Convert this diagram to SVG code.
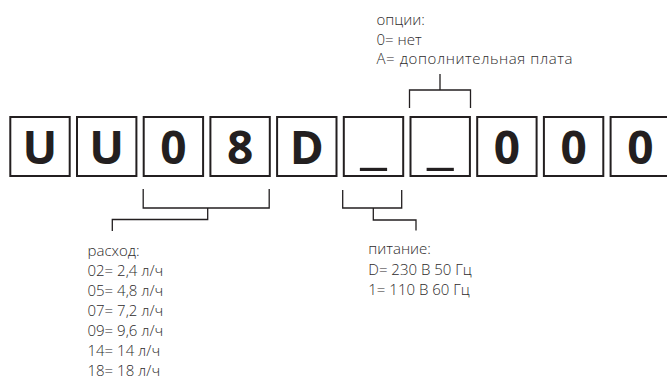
<svg xmlns="http://www.w3.org/2000/svg" width="667" height="383" viewBox="0 0 667 383">
<style>
.box{fill:#fff;stroke:#231f20;stroke-width:2}
.ch{font-family:"Open Sans","DejaVu Sans",sans-serif;font-weight:700;font-size:46px;fill:#231f20;text-anchor:middle}
.lbl{font-family:"Open Sans","DejaVu Sans",sans-serif;font-weight:300;font-size:15px;fill:#2e2b2c}
.con{fill:none;stroke:#231f20;stroke-width:1.3}
</style>
<rect width="667" height="383" fill="#fff"/>
<g id="node-1"><rect class="box" x="10.3" y="117" width="59.4" height="59"/><text class="ch" x="40" y="164">U</text></g>
<g id="node-2"><rect class="box" x="77" y="117" width="59.4" height="59"/><text class="ch" x="106.7" y="164">U</text></g>
<g id="node-3"><rect class="box" x="143.7" y="117" width="59.4" height="59"/><text class="ch" x="173.4" y="164">0</text></g>
<g id="node-4"><rect class="box" x="210.4" y="117" width="59.4" height="59"/><text class="ch" x="240.1" y="164">8</text></g>
<g id="node-5"><rect class="box" x="277.1" y="117" width="59.4" height="59"/><text class="ch" x="306.8" y="164">D</text></g>
<g id="node-6"><rect class="box" x="343.8" y="117" width="59.4" height="59"/><text class="ch" x="373.5" y="164" textLength="27" lengthAdjust="spacingAndGlyphs">_</text></g>
<g id="node-7"><rect class="box" x="410.5" y="117" width="59.4" height="59"/><text class="ch" x="440.2" y="164" textLength="27" lengthAdjust="spacingAndGlyphs">_</text></g>
<g id="node-8"><rect class="box" x="477.2" y="117" width="59.4" height="59"/><text class="ch" x="506.9" y="164">0</text></g>
<g id="node-9"><rect class="box" x="543.9" y="117" width="59.4" height="59"/><text class="ch" x="573.6" y="164">0</text></g>
<g id="node-10"><rect class="box" x="610.6" y="117" width="59.4" height="59"/><text class="ch" x="640.3" y="164">0</text></g>
<g id="connectors">
<path class="con" d="M143.2 189V208H269.2V189M207.7 208V219.5H112.3V231"/>
<path class="con" d="M342.7 190V208H401.7V190M373.3 208V220H416V230.5"/>
<path class="con" d="M409.5 108V90H470.5V108M440 90V74"/>
</g>
<g id="label-options"><text class="lbl" x="376.5" y="25">опции:</text><text class="lbl" x="376.5" y="44.5">0= нет</text><text class="lbl" x="376.5" y="64" textLength="196">А= дополнительная плата</text></g>
<g id="label-flow"><text class="lbl" x="87.5" y="256">расход:</text><text class="lbl" x="87.5" y="276">02= 2,4 л/ч</text><text class="lbl" x="87.5" y="296">05= 4,8 л/ч</text><text class="lbl" x="87.5" y="316">07= 7,2 л/ч</text><text class="lbl" x="87.5" y="336">09= 9,6 л/ч</text><text class="lbl" x="87.5" y="356">14= 14 л/ч</text><text class="lbl" x="87.5" y="376">18= 18 л/ч</text></g>
<g id="label-power"><text class="lbl" x="368.3" y="254">питание:</text><text class="lbl" x="368.3" y="274.5">D= 230 В 50 Гц</text><text class="lbl" x="368.3" y="295">1= 110 В 60 Гц</text></g>
</svg>
